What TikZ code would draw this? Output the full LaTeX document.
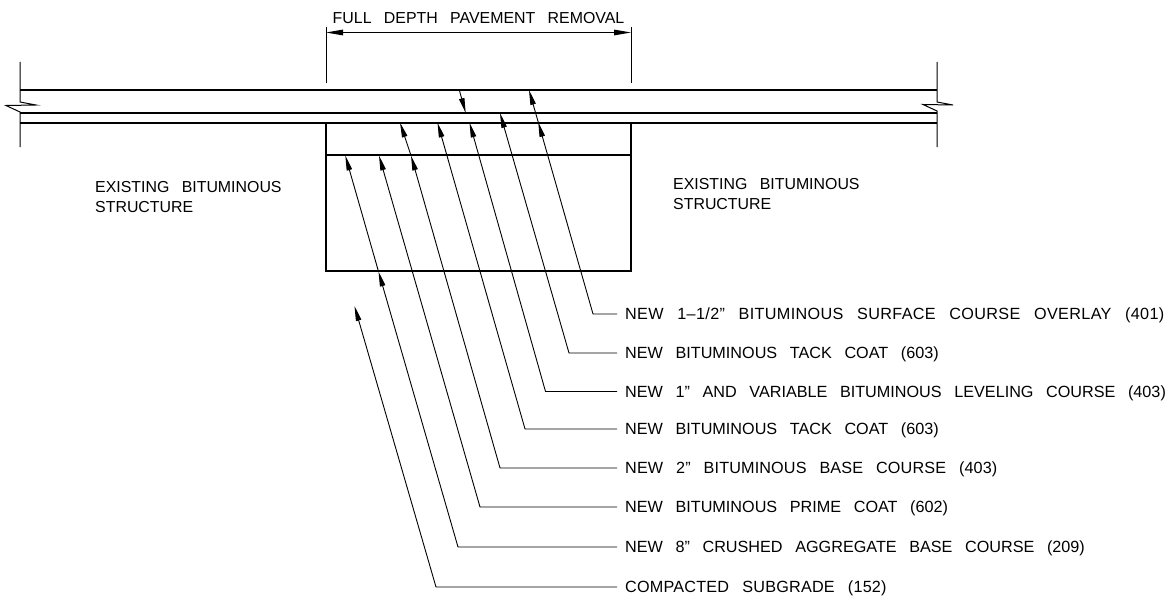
\documentclass[tikz,border=0pt]{standalone}
\usepackage{fontspec}
\setmainfont[WordSpace=2.8]{Liberation Sans}
\usetikzlibrary{arrows.meta}
\tikzset{
  wall/.style={line width=1.6pt},
  thin line/.style={line width=1pt},
  leader/.style={line width=0.9pt},
  cadtext/.style={inner sep=0pt,font=\fontsize{15.9}{20}\selectfont},
  rowtext/.style={cadtext,font=\fontsize{16.2}{20}\selectfont,text height=11.6pt,text depth=0pt},
  tiphead/.style={-{Triangle[length=15pt,width=5.4pt]}},
  dimhead/.style={{Triangle[length=17pt,width=5.6pt]}-{Triangle[length=17pt,width=5.6pt]}}
}
% one callout : number, row height, elbow x, text
\newcommand{\callout}[4]{
  \node[rowtext,anchor=west,inner xsep=8pt] (lab#1) at (617,#2) {#4};
  \coordinate (elb#1) at (#3,#2);
}
\begin{document}
\begin{tikzpicture}[x=1pt,y=-1pt]
\useasboundingbox (0,0) rectangle (1175,602);

% pavement layers
  \foreach \ypos in {90,113,123} {
    \draw[wall] (20,\ypos) -- (937,\ypos);
  }
  \draw[wall] (326,123) -- (326,271) -- (631,271) -- (631,123);
  \draw[wall] (326,155) -- (631,155);

%ends with break marks
  \draw[thin line] (20,62) -- (20,102) -- (36,105) -- (6,105.5) -- (20,112) -- (20,147);
  \draw[thin line] (937,62) -- (937,102) -- (953,105) -- (923,104.5) -- (937,111) -- (937,147);

%removal dimension
  \coordinate (dimL) at (326,32.5);
  \coordinate (dimR) at (631,32.5);
  \draw[thin line] (326,27) -- (326,83);
  \draw[thin line] (631,27) -- (631,83);
  \draw[thin line,dimhead] (dimL) -- (dimR);
  \node[rowtext,font=\fontsize{15.9}{20}\selectfont] (removal) at (478.5,18) {FULL DEPTH PAVEMENT REMOVAL};

  \node[cadtext,anchor=west,align=left] (existL) at (95,197.5) {EXISTING BITUMINOUS\\STRUCTURE};
  \node[cadtext,anchor=west,align=left] (existR) at (673,194) {EXISTING BITUMINOUS\\STRUCTURE};

%put the labels down the right side:
  \callout{1}{314}{593}{\addfontfeature{LetterSpace=2.2}NEW 1--1/2" BITUMINOUS SURFACE COURSE OVERLAY (401)}
  \callout{2}{353}{569}{NEW BITUMINOUS TACK COAT (603)}
  \callout{3}{391.5}{545.5}{NEW 1" AND VARIABLE BITUMINOUS LEVELING COURSE (403)}
  \callout{4}{429}{525}{NEW BITUMINOUS TACK COAT (603)}
  \callout{5}{468}{500}{\addfontfeature{LetterSpace=0.8}NEW 2" BITUMINOUS BASE COURSE (403)}
  \callout{6}{507}{480}{NEW BITUMINOUS PRIME COAT (602)}
  \callout{7}{547}{458}{NEW 8" CRUSHED AGGREGATE BASE COURSE (209)}
  \callout{8}{587}{436}{\addfontfeature{LetterSpace=1.3}COMPACTED SUBGRADE (152)}

%arrow ends, some leaders have a second head on the way
  \coordinate (tip1a) at (538.2,122);
  \coordinate (tip1) at (529,90);
  \coordinate (tip2) at (500,113);
  \coordinate (tip3) at (469.5,122.5);
  \coordinate (tip3a) at (459.3,90);
  \coordinate (tip3b) at (465.7,113);
  \coordinate (tip4) at (437.5,122.5);
  \coordinate (tip5a) at (411,155.5);
  \coordinate (tip5) at (400,122.5);
  \coordinate (tip6) at (379,155.5);
  \coordinate (tip7a) at (378.5,271.5);
  \coordinate (tip7) at (345.3,155.5);
  \coordinate (tip8) at (354.5,306);

  \foreach \row/\tipname in {1/tip1a,2/tip2,3/tip3,4/tip4,5/tip5a,6/tip6,7/tip7a,8/tip8} {
    \draw[leader,tiphead] (lab\row.west) -- (elb\row) -- (\tipname);
  }
  \draw[leader,tiphead] (tip1a) -- (tip1);
  \draw[leader,tiphead] (tip5a) -- (tip5);
  \draw[leader,tiphead] (tip7a) -- (tip7);
  \draw[leader,tiphead] (tip3a) -- (tip3b);
\end{tikzpicture}
\end{document}
